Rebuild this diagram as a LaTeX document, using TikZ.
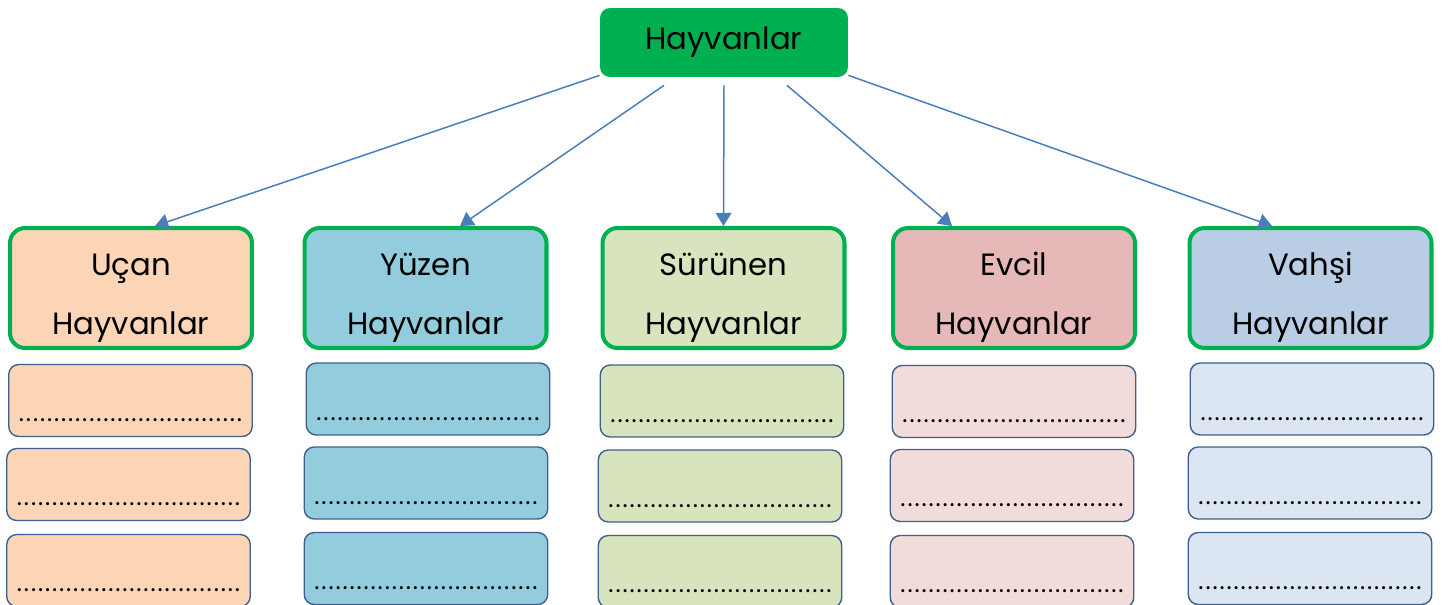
\documentclass[tikz,border=0pt]{standalone}
\usepackage{fontspec}
\setmainfont{Poppins}
\usetikzlibrary{arrows.meta}
\definecolor{hgreen}{HTML}{00B050}
\definecolor{linkblue}{HTML}{4A7EBB}
\definecolor{dotline}{HTML}{3F5F8C}
\definecolor{ucanfill}{HTML}{FBD5B5}
\definecolor{yuzenfill}{HTML}{93CDDD}
\definecolor{surunenfill}{HTML}{D7E4BD}
\definecolor{evcilfill}{HTML}{E6B9B8}
\definecolor{evcillight}{HTML}{F2DCDB}
\definecolor{vahsifill}{HTML}{B9CDE5}
\definecolor{vahsilight}{HTML}{DCE6F2}
\newcommand{\noktalar}{\foreach \i in {1,...,32}{\makebox[4pt]{.}}}
\begin{document}
\begin{tikzpicture}[x = 0.02cm, y = -0.02cm,
        mainbox/.style = {fill = hgreen, rounded corners = 0.2cm, minimum width = 4.96cm, minimum height = 1.38cm,
            inner sep = 0pt, font = \fontsize{17.5}{20}\selectfont},
        groupbox/.style = {draw = hgreen, line width = 2.3pt, rounded corners = 0.3cm, minimum width = 4.84cm,
            minimum height = 2.4cm, inner sep = 0pt, align = center, text height = 57pt, text depth = 3.8pt,
            font = \fontsize{17.5}{33.5}\selectfont},
        dotbox/.style = {draw = dotline, line width = 0.8pt, rounded corners = 0.2cm, minimum width = 4.87cm,
            inner sep = 0pt, text height = 1.14cm, text depth = 0.3cm, font = \fontsize{14}{14}\selectfont},
        link/.style = {draw = linkblue, line width = 0.85pt, -{Triangle[length = 7.5pt, width = 9pt]}}]
    \useasboundingbox (0,0) rectangle (1454,605);
    \node[mainbox] (hayvanlar) at (724,42.5) {Hayvanlar};
    % groups
    \node[groupbox, fill = ucanfill] (ucan) at (131,288) {Uçan\\Hayvanlar};
    \node[groupbox, fill = yuzenfill] (yuzen) at (425.5,288) {Yüzen\\Hayvanlar};
    \node[groupbox, fill = surunenfill] (surunen) at (723.5,288) {Sürünen\\Hayvanlar};
    \node[groupbox, fill = evcilfill] (evcil) at (1014,288) {Evcil\\Hayvanlar};
    \node[groupbox, fill = vahsifill] (vahsi) at (1310.5,288) {Vahşi\\Hayvanlar};
    % arrows
    \draw[link] ([yshift = 0.04cm]hayvanlar.south west) -- ([xshift = 0.48cm]ucan.north);
    \draw[link] ([xshift = -1.2cm, yshift = -0.16cm]hayvanlar.south) -- ([xshift = 0.69cm]yuzen.north);
    \draw[link] ([yshift = -0.16cm]hayvanlar.south) -- (surunen.north);
    \draw[link] ([xshift = 1.26cm, yshift = -0.16cm]hayvanlar.south) -- ([xshift = -1.24cm]evcil.north);
    \draw[link] ([yshift = 0.04cm]hayvanlar.south east) -- ([xshift = -0.77cm]vahsi.north);
    % dotted boxes
    \begin{scope}[every node/.append style = {dotbox}]
        \node[fill = ucanfill] (ucan1) at (130.5,400.5) {\noktalar};
        \node[fill = ucanfill] (ucan2) at (128.5,484.5) {\noktalar};
        \node[fill = ucanfill] (ucan3) at (128.5,570.5) {\noktalar};
        \node[fill = yuzenfill] (yuzen1) at (428,399) {\noktalar};
        \node[fill = yuzenfill] (yuzen2) at (426,483) {\noktalar};
        \node[fill = yuzenfill] (yuzen3) at (426,568.5) {\noktalar};
        \node[fill = surunenfill] (surunen1) at (722,401) {\noktalar};
        \node[fill = surunenfill] (surunen2) at (720,486) {\noktalar};
        \node[fill = surunenfill] (surunen3) at (720,571.5) {\noktalar};
        \node[fill = evcillight] (evcil1) at (1014,401.5) {\noktalar};
        \node[fill = evcillight] (evcil2) at (1012,485.5) {\noktalar};
        \node[fill = evcillight] (evcil3) at (1012,571.5) {\noktalar};
        \node[fill = vahsilight] (vahsi1) at (1312,399) {\noktalar};
        \node[fill = vahsilight] (vahsi2) at (1310,483) {\noktalar};
        \node[fill = vahsilight] (vahsi3) at (1310,568.5) {\noktalar};
    \end{scope}
\end{tikzpicture}
\end{document}
